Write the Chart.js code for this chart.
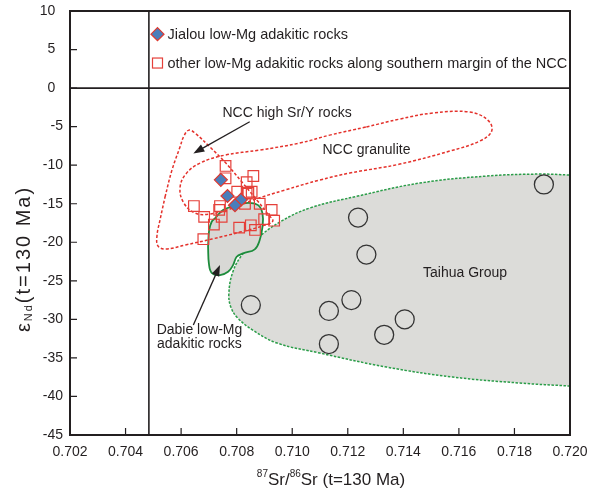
<!DOCTYPE html>
<html>
<head>
<meta charset="utf-8">
<script src="https://cdn.jsdelivr.net/npm/chart.js@4.4.1/dist/chart.umd.min.js"></script>
<style>
  html, body { margin: 0; padding: 0; background: #fff; }
</style>
</head>
<body>
<canvas id="c" width="590" height="489"></canvas>
<script>
const FONT = '"Liberation Sans", Arial, sans-serif';
const INK = '#231f20';

// Jialou low-Mg adakitic rocks (blue diamonds)
const jialouSr = [0.70743, 0.70767, 0.70815, 0.70794];
const jialouNd = [-11.9, -14.0, -14.5, -15.2];

// other low-Mg adakitic rocks, southern margin of the NCC (open squares)
const otherSr = [0.7076, 0.7076, 0.7086, 0.70836, 0.70854, 0.70802, 0.70836, 0.7083, 0.70883, 0.70646, 0.7074, 0.70737,
                 0.70683, 0.70746, 0.70926, 0.70899, 0.70935, 0.70718, 0.70809, 0.70851, 0.70866, 0.7068, 0.70842];
const otherNd = [-10.1, -11.7, -11.4, -12.2, -13.45, -13.45, -13.7, -15.0, -15.0, -15.3, -15.3, -15.8,
                 -16.7, -16.7, -15.8, -17.0, -17.2, -17.7, -18.1, -17.8, -18.4, -19.6, -13.6];

// Taihua Group (open circles)
const taihuaSr = [0.71906, 0.71237, 0.71267, 0.70851, 0.71213, 0.71132, 0.71405, 0.71331, 0.71132];
const taihuaNd = [-12.5, -16.8, -21.6, -28.15, -27.5, -28.9, -30.0, -32.0, -33.2];

// field outlines
const taihuaFieldSr = [0.72000, 0.71819, 0.71578, 0.71340, 0.71099, 0.70945, 0.70858, 0.70804, 0.70779, 0.70772,
                       0.70786, 0.70819, 0.70876, 0.70955, 0.71063, 0.71236, 0.71459, 0.71700, 0.71891, 0.72000];
const taihuaFieldNd = [-38.65, -38.26, -37.48, -36.19, -34.37, -33.07, -31.39, -29.83, -28.40, -26.59,
                       -23.87, -21.66, -19.46, -17.38, -15.56, -14.01, -12.32, -11.41, -11.15, -11.28];

const dabieSr = [0.70697, 0.70701, 0.70710, 0.70722, 0.70751, 0.70800, 0.70841, 0.70877, 0.70893, 0.70893,
                 0.70883, 0.70865, 0.70823, 0.70800, 0.70787, 0.70769, 0.70740, 0.70710, 0.70700, 0.70697];
const dabieNd = [-20.58, -18.42, -17.34, -16.90, -15.82, -15.18, -14.88, -15.18, -16.25, -17.99,
                 -19.71, -20.92, -21.44, -21.88, -22.96, -23.83, -24.25, -23.96, -22.74, -20.58];

const granuliteSr = [0.71265, 0.71135, 0.71027, 0.70883, 0.70758, 0.70668, 0.70617, 0.70596, 0.70610, 0.70650,
                     0.70704, 0.70776, 0.70858, 0.70973, 0.71099, 0.71207, 0.71387, 0.71567, 0.71675, 0.71718,
                     0.71704, 0.71639, 0.71506, 0.71387, 0.71265];
const granuliteNd = [-5.06, -6.10, -7.13, -8.04, -8.69, -9.73, -11.15, -12.97, -14.92, -16.21,
                     -16.34, -15.69, -14.53, -13.23, -11.93, -11.02, -9.86, -8.17, -6.87, -5.58,
                     -4.15, -3.11, -3.24, -4.02, -5.06];

const highSrYSr = [0.70542, 0.70567, 0.70596, 0.70610, 0.70628, 0.70650, 0.70704, 0.70761, 0.70819, 0.70873,
                   0.70912, 0.70930, 0.70891, 0.70812, 0.70711, 0.70614, 0.70545, 0.70517, 0.70513, 0.70524, 0.70542];
const highSrYNd = [-14.14, -10.64, -7.65, -6.23, -5.45, -5.84, -7.65, -9.73, -12.19, -14.53,
                   -16.34, -17.25, -17.90, -18.68, -19.58, -20.36, -20.88, -20.49, -19.20, -17.12, -14.14];

// reference lines
const bulkEarthSr = 0.70484;
const chondriteNd = 0;

// axis ranges and ticks
const srMin = 0.702, srMax = 0.720, srStep = 0.002;
const ndMin = -45, ndMax = 10, ndStep = 5;

// annotations (text, Sr, Nd)
const noteText = ['NCC high Sr/Y rocks', 'NCC granulite', 'Taihua Group'];
const noteSr = [0.70749, 0.71109, 0.71471];
const noteNd = [-3.2, -8.04, -23.96];
const dabieLabel = ['Dabie low-Mg', 'adakitic rocks'];
const dabieLabelSr = 0.70666;
const dabieLabelNd = [-31.4, -33.2];
const arrowFromSr = [0.70847, 0.70644];
const arrowFromNd = [-4.37, -30.74];
const arrowToSr = [0.70644, 0.70740];
const arrowToNd = [-8.47, -22.96];

const legendText = ['Jialou low-Mg adakitic rocks', 'other low-Mg adakitic rocks along southern margin of the NCC'];

const pts = (xs, ys) => xs.map((x, i) => ({ x: x, y: ys[i] }));

function outline(data, color, dash, width, order, fillColor) {
    return {
        type: 'line', data: data, borderColor: color, borderWidth: width, borderDash: dash,
        pointRadius: 0, tension: 0.4, order: order,
        fill: fillColor ? 'shape' : false, backgroundColor: fillColor || 'transparent'
    };
}

function arrow(ctx, x0, y0, x1, y1) {
    const a = Math.atan2(y1 - y0, x1 - x0), head = 11, half = 4;
    ctx.beginPath();
    ctx.moveTo(x0, y0);
    ctx.lineTo(x1 - head * 0.8 * Math.cos(a), y1 - head * 0.8 * Math.sin(a));
    ctx.stroke();
    ctx.beginPath();
    ctx.moveTo(x1, y1);
    ctx.lineTo(x1 - head * Math.cos(a) + half * Math.sin(a), y1 - head * Math.sin(a) - half * Math.cos(a));
    ctx.lineTo(x1 - head * Math.cos(a) - half * Math.sin(a), y1 - head * Math.sin(a) + half * Math.cos(a));
    ctx.closePath();
    ctx.fill();
}

function richText(ctx, runs, cx, cy, spacing) {
    ctx.letterSpacing = (spacing || 0) + 'px';
    let w = 0;
    runs.forEach(r => { ctx.font = r.size + 'px ' + FONT; r.w = ctx.measureText(r.t).width; w += r.w; });
    let x = cx - w / 2;
    ctx.textAlign = 'left';
    runs.forEach(r => { ctx.font = r.size + 'px ' + FONT; ctx.fillText(r.t, x, cy + (r.dy || 0)); x += r.w; });
    ctx.letterSpacing = '0px';
}

const decorations = {
    id: 'decorations',
    afterDraw(chart) {
        const { ctx, chartArea: a, scales: { x, y } } = chart;
        ctx.save();
        ctx.fillStyle = INK;
        ctx.strokeStyle = INK;

        // arrows
        ctx.lineWidth = 1.3;
        arrowFromSr.forEach((s, i) => {
            arrow(ctx, x.getPixelForValue(s), y.getPixelForValue(arrowFromNd[i]),
                  x.getPixelForValue(arrowToSr[i]), y.getPixelForValue(arrowToNd[i]));
        });

        // field labels
        ctx.font = '14px ' + FONT;
        ctx.textBaseline = 'middle';
        ctx.textAlign = 'left';
        noteText.forEach((t, i) => ctx.fillText(t, x.getPixelForValue(noteSr[i]), y.getPixelForValue(noteNd[i])));
        ctx.textAlign = 'center';
        dabieLabel.forEach((t, i) => ctx.fillText(t, x.getPixelForValue(dabieLabelSr), y.getPixelForValue(dabieLabelNd[i])));

        // legend
        const lx = x.getPixelForValue(0.70515);
        const ly = [y.getPixelForValue(7.0), y.getPixelForValue(3.25)];
        ctx.lineWidth = 1.2;
        ctx.beginPath();
        ctx.moveTo(lx, ly[0] - 6.5); ctx.lineTo(lx + 6.5, ly[0]); ctx.lineTo(lx, ly[0] + 6.5); ctx.lineTo(lx - 6.5, ly[0]);
        ctx.closePath();
        ctx.fillStyle = '#4a7ebb'; ctx.fill();
        ctx.strokeStyle = '#e0392f'; ctx.stroke();
        ctx.strokeStyle = '#e5403a';
        ctx.strokeRect(lx - 5, ly[1] - 5, 10, 10);
        ctx.fillStyle = INK;
        ctx.font = '14.5px ' + FONT;
        ctx.textAlign = 'left';
        legendText.forEach((t, i) => ctx.fillText(t, lx + 10, ly[i] + 0.5));

        // inward tick marks
        ctx.strokeStyle = INK;
        ctx.lineWidth = 1.2;
        ctx.beginPath();
        x.ticks.forEach(t => { const px = x.getPixelForValue(t.value); ctx.moveTo(px, a.bottom); ctx.lineTo(px, a.bottom - 7); });
        y.ticks.forEach(t => { const py = y.getPixelForValue(t.value); ctx.moveTo(a.left, py); ctx.lineTo(a.left + 7, py); });
        ctx.stroke();

        // frame
        ctx.lineWidth = 2;
        ctx.strokeRect(a.left, a.top, a.right - a.left, a.bottom - a.top);

        // axis titles
        ctx.textBaseline = 'middle';
        richText(ctx, [
            { t: '87', size: 10, dy: -6 }, { t: 'Sr/', size: 17 },
            { t: '86', size: 10, dy: -6 }, { t: 'Sr (t=130 Ma)', size: 17 }
        ], 331, 480, 0);
        ctx.translate(24, 259);
        ctx.rotate(-Math.PI / 2);
        richText(ctx, [
            { t: '\u03b5', size: 20 }, { t: 'Nd', size: 11, dy: 5 }, { t: '(t=130 Ma)', size: 20 }
        ], 0, 0, 2);
        ctx.restore();
    }
};

new Chart(document.getElementById('c'), {
    type: 'scatter',
    data: {
        datasets: [
            { data: pts(jialouSr, jialouNd), pointStyle: 'rectRot', pointRadius: 6.5, backgroundColor: '#4a7ebb',
              borderColor: '#e0392f', borderWidth: 1.2, order: 0 },
            { data: pts(otherSr, otherNd), pointStyle: 'rect', pointRadius: 7.5, backgroundColor: 'rgba(255,255,255,0)',
              borderColor: '#e5403a', borderWidth: 1.2, order: 1 },
            { data: pts(taihuaSr, taihuaNd), pointStyle: 'circle', pointRadius: 9.5, backgroundColor: 'rgba(255,255,255,0)',
              borderColor: '#333333', borderWidth: 1.3, order: 1 },
            { type: 'line', data: [{ x: srMin, y: chondriteNd }, { x: srMax, y: chondriteNd }], borderColor: INK,
              borderWidth: 1.6, pointRadius: 0, order: 2 },
            { type: 'line', data: [{ x: bulkEarthSr, y: ndMin }, { x: bulkEarthSr, y: ndMax }], borderColor: INK,
              borderWidth: 1.6, pointRadius: 0, order: 2 },
            outline(pts(highSrYSr, highSrYNd), '#e4312b', [3, 2], 1.5, 3),
            outline(pts(granuliteSr, granuliteNd), '#e4312b', [3, 2], 1.5, 3),
            outline(pts(dabieSr, dabieNd), '#1d8c3c', [], 1.8, 4, '#d8d8d5'),
            outline(pts(taihuaFieldSr, taihuaFieldNd), '#2a9d48', [2.5, 1.5], 1.5, 5, '#dcdcd9')
        ]
    },
    options: {
        responsive: false,
        animation: false,
        layout: { padding: { left: 0, right: 20, top: 11, bottom: 0 } },
        plugins: { legend: { display: false }, tooltip: { enabled: false } },
        scales: {
            x: {
                type: 'linear', min: srMin, max: srMax,
                grid: { display: false, drawTicks: false }, border: { display: false },
                ticks: { stepSize: srStep, padding: 9, color: INK, autoSkip: false, maxRotation: 0,
                         font: { family: FONT, size: 14 }, callback: v => v.toFixed(3) },
                afterFit: s => { s.height = 54; s.paddingLeft = 0; s.paddingRight = 0; }
            },
            y: {
                type: 'linear', min: ndMin, max: ndMax,
                grid: { display: false, drawTicks: false }, border: { display: false },
                ticks: { stepSize: ndStep, padding: 7, color: INK, font: { family: FONT, size: 14 },
                         callback: v => v < 0 ? String(v) : v + '  ' },
                afterFit: s => { s.width = 70; s.paddingTop = 0; s.paddingBottom = 0; }
            }
        }
    },
    plugins: [decorations]
});
</script>
</body>
</html>
